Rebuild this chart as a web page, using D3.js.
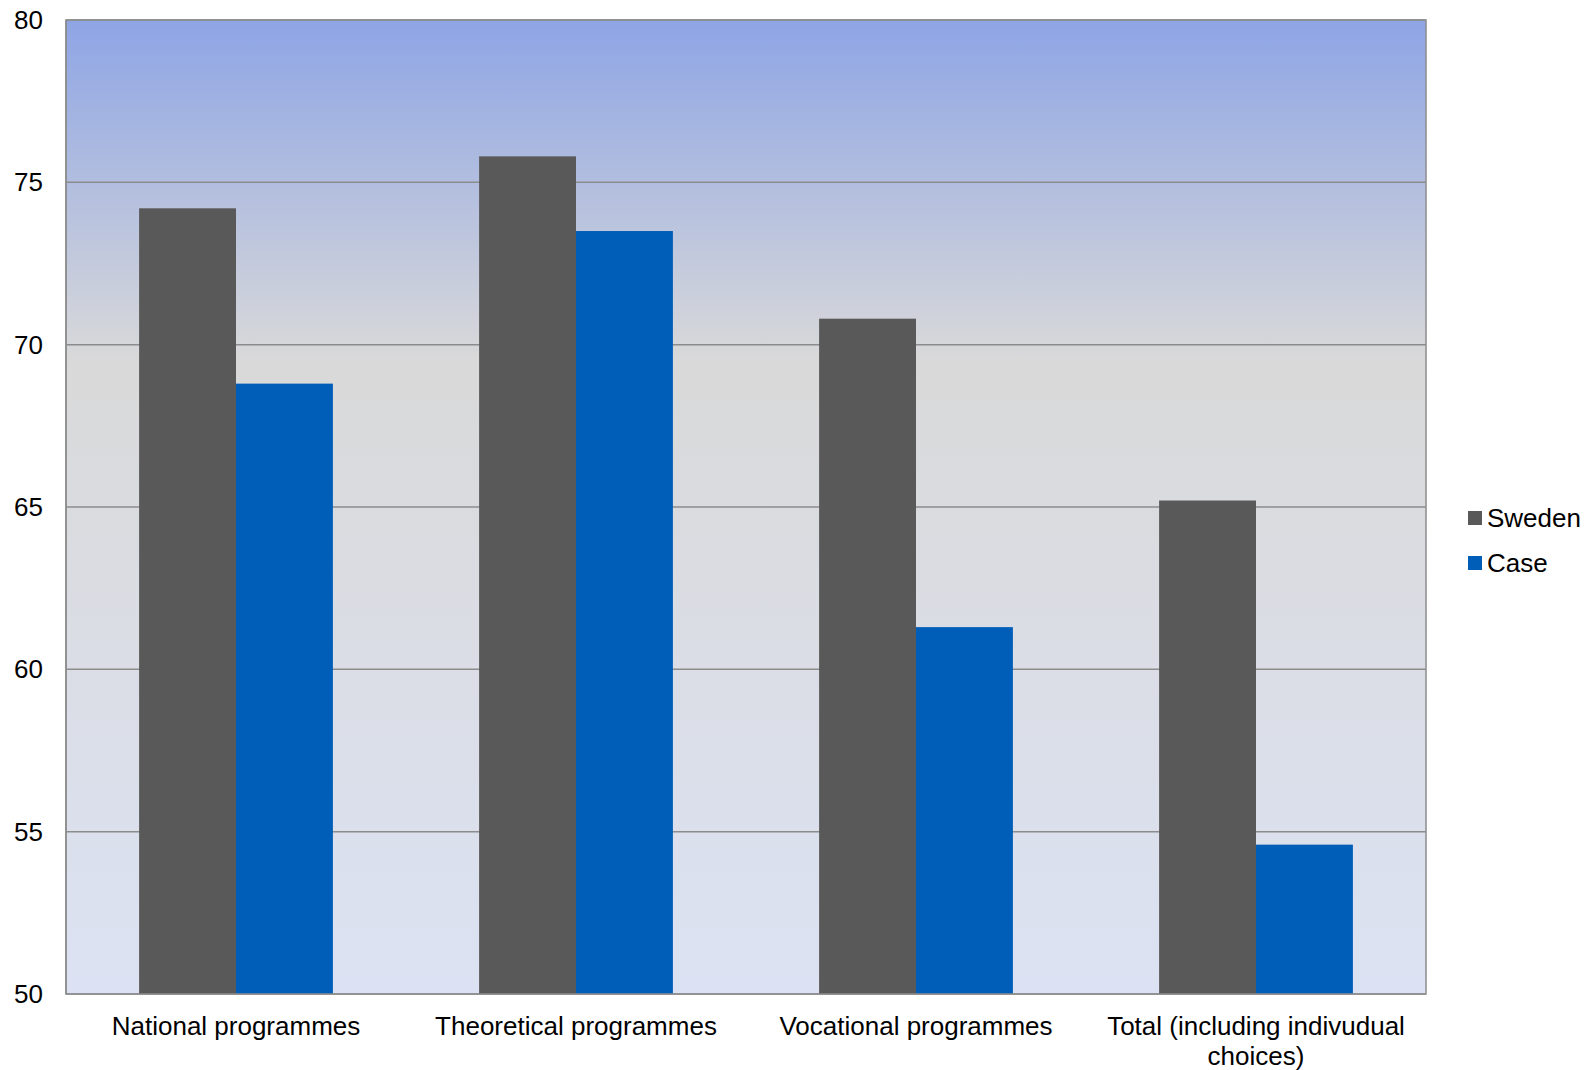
<!DOCTYPE html>
<html lang="en">
<head>
    <meta charset="UTF-8">
    <title>Sweden vs Case</title>
    <script src="https://cdnjs.cloudflare.com/ajax/libs/d3/7.8.5/d3.min.js"></script>
    <style>
        body {
            margin: 0;
            background-color: white;
            font-family: "Liberation Sans", Arial, sans-serif;
        }
    </style>
</head>
<body>
    <div id="chart"></div>

    <script>
        const categories = ["National programmes", "Theoretical programmes", "Vocational programmes", "Total (including indivudual choices)"];
        const seriesNames = ["Sweden", "Case"];
        const sweden = [74.2, 75.8, 70.8, 65.2];
        const caseValues = [68.8, 73.5, 61.3, 54.6];
        const yTicks = [50, 55, 60, 65, 70, 75, 80];

        const colors = ["#595959", "#005EB8"];
        const width = 1587;
        const height = 1070;
        const plot = { left: 66, top: 20, right: 1426, bottom: 994 };

        const svg = d3.select("#chart")
            .append("svg")
            .attr("width", width)
            .attr("height", height);

        // background gradient of the plot area
        const grad = svg.append("defs").append("linearGradient")
            .attr("id", "bg")
            .attr("x1", 0).attr("y1", 0).attr("x2", 0).attr("y2", 1);
        grad.append("stop").attr("offset", "0%").attr("stop-color", "#8ea5e5");
        grad.append("stop").attr("offset", "35%").attr("stop-color", "#d9d9d9");
        grad.append("stop").attr("offset", "100%").attr("stop-color", "#dce2f3");

        const y = d3.scaleLinear()
            .domain([50, 80])
            .range([plot.bottom, plot.top]);

        const x0 = d3.scaleBand()
            .domain(categories)
            .range([plot.left, plot.right]);

        const x1 = d3.scaleBand()
            .domain(seriesNames)
            .range([0, x0.bandwidth() * 0.57]);

        svg.append("rect")
            .attr("x", plot.left)
            .attr("y", plot.top)
            .attr("width", plot.right - plot.left)
            .attr("height", plot.bottom - plot.top)
            .attr("fill", "url(#bg)")
            .attr("stroke", "#8c8c8c")
            .attr("stroke-width", 1.5);

        // gridlines
        svg.append("g")
            .selectAll("line")
            .data(yTicks.slice(1))
            .enter()
            .append("line")
            .attr("x1", plot.left)
            .attr("x2", plot.right)
            .attr("y1", d => y(d))
            .attr("y2", d => y(d))
            .attr("stroke", "#8c8c8c")
            .attr("stroke-width", 1.5);

        // bars
        const data = categories.map((c, i) => ({ cat: c, values: [sweden[i], caseValues[i]] }));
        const groupOffset = (x0.bandwidth() - x1.range()[1]) / 2;

        const groups = svg.append("g")
            .selectAll("g")
            .data(data)
            .enter()
            .append("g")
            .attr("transform", d => `translate(${x0(d.cat) + groupOffset},0)`);

        groups.selectAll("rect")
            .data(d => d.values.map((v, j) => ({ name: seriesNames[j], value: v, j: j })))
            .enter()
            .append("rect")
            .attr("x", d => x1(d.name))
            .attr("y", d => y(d.value))
            .attr("width", x1.bandwidth())
            .attr("height", d => y(50) - y(d.value))
            .attr("fill", d => colors[d.j]);

        // axis lines
        svg.append("line")
            .attr("x1", plot.left).attr("x2", plot.right)
            .attr("y1", plot.bottom).attr("y2", plot.bottom)
            .attr("stroke", "#8c8c8c").attr("stroke-width", 1.5);
        svg.append("line")
            .attr("x1", plot.left).attr("x2", plot.left)
            .attr("y1", plot.top).attr("y2", plot.bottom)
            .attr("stroke", "#8c8c8c").attr("stroke-width", 1.5);

        // y tick labels
        svg.append("g")
            .selectAll("text")
            .data(yTicks)
            .enter()
            .append("text")
            .attr("x", 43)
            .attr("y", d => y(d))
            .attr("dy", "0.35em")
            .attr("text-anchor", "end")
            .style("font-size", "26px")
            .attr("fill", "#000")
            .text(d => d);

        // category labels (wrapped)
        const catLabels = svg.append("g")
            .selectAll("text")
            .data(categories)
            .enter()
            .append("text")
            .attr("x", d => x0(d) + x0.bandwidth() / 2)
            .attr("y", 1035)
            .attr("text-anchor", "middle")
            .style("font-size", "26px")
            .attr("fill", "#000");

        catLabels.each(function(d) {
            const t = d3.select(this);
            const lines = d.startsWith("Total") ? ["Total (including indivudual", "choices)"] : [d];
            lines.forEach((l, i) => {
                t.append("tspan")
                    .attr("x", x0(d) + x0.bandwidth() / 2)
                    .attr("dy", i === 0 ? 0 : "1.17em")
                    .text(l);
            });
        });

        // legend
        const legend = svg.append("g")
            .attr("transform", "translate(1468,511)");

        seriesNames.forEach((s, i) => {
            legend.append("rect")
                .attr("x", 0)
                .attr("y", i * 45)
                .attr("width", 14)
                .attr("height", 14)
                .attr("fill", colors[i]);
            legend.append("text")
                .attr("x", 19)
                .attr("y", i * 45 + 7)
                .attr("dy", "0.35em")
                .style("font-size", "26px")
                .text(s);
        });
    </script>
</body>
</html>
